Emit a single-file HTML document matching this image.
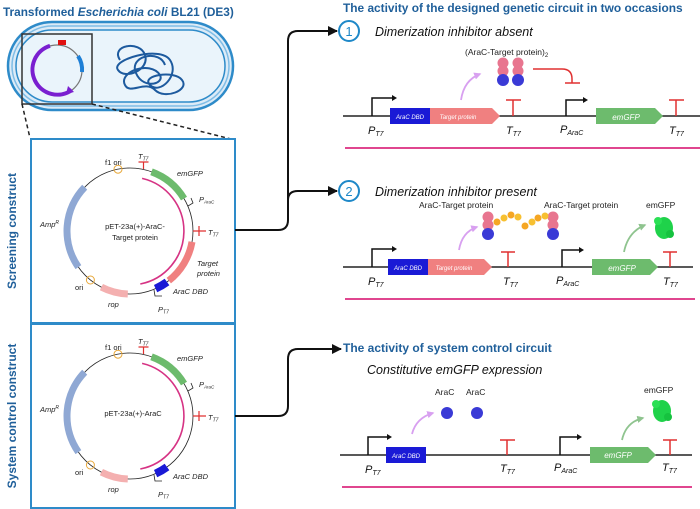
<!DOCTYPE html>
<html><head><meta charset="utf-8"><style>
html,body{margin:0;padding:0;background:#fff}
svg{display:block}
text{font-family:"Liberation Sans",sans-serif}
.bt{font-weight:bold;fill:#1f5f9a}
.it{font-style:italic}
</style></head><body>
<svg width="700" height="509" viewBox="0 0 700 509" xmlns="http://www.w3.org/2000/svg">
<defs>
<g id="plas">
 <circle cx="130" cy="231" r="63" fill="none" stroke="#222" stroke-width="0.8"/>
 <path d="M84.7 187.2 A63 63 0 0 0 78.4 267.1" fill="none" stroke="#8fa8d4" stroke-width="7"/>
 <path d="M127.8 294 A63 63 0 0 1 101.4 287.1" fill="none" stroke="#f4b0b0" stroke-width="7"/>
 <path d="M151.5 171.8 A63 63 0 0 1 184 198.6" fill="none" stroke="#6dbb6d" stroke-width="7"/>
 <path d="M167 282 A63 63 0 0 1 155.6 288.6" fill="none" stroke="#1a1ad6" stroke-width="8"/>
 <path d="M142.1 178.4 A54 54 0 0 1 140.3 284" fill="none" stroke="#d63384" stroke-width="1.6"/>
 <circle cx="118" cy="169.2" r="4" fill="none" stroke="#e8a83a" stroke-width="1"/>
 <circle cx="90.4" cy="280" r="4" fill="none" stroke="#e8a83a" stroke-width="1"/>
 <path d="M143.5 169 V162 M138.5 162 H148.5" stroke="#e03030" stroke-width="1.2" fill="none"/>
 <path d="M193 231 H206 M199 226 V236" stroke="#e03030" stroke-width="1.2" fill="none"/>
 <path d="M188 206 L193 203 L191 198" stroke="#222" stroke-width="0.8" fill="none"/>
 <path d="M154 290 L155 296 L162 296" stroke="#222" stroke-width="0.8" fill="none"/>
</g>
<marker id="ah" viewBox="0 0 10 10" refX="9" refY="5" markerWidth="5" markerHeight="5" orient="auto"><path d="M0 0 L10 5 L0 10z" fill="#111"/></marker>
<marker id="ap" viewBox="0 0 10 10" refX="8" refY="5" markerWidth="4" markerHeight="4" orient="auto"><path d="M0 0 L10 5 L0 10z" fill="#d8a0f0"/></marker>
<marker id="ag" viewBox="0 0 10 10" refX="8" refY="5" markerWidth="4" markerHeight="4" orient="auto"><path d="M0 0 L10 5 L0 10z" fill="#8fc48f"/></marker>
<g id="dimer1"><circle cx="0" cy="0" r="5.5" fill="#e8758f"/><circle cx="0" cy="8" r="5.5" fill="#e8758f"/><circle cx="0" cy="17" r="6" fill="#3a3ad6"/></g>
<g id="gfp"><ellipse cx="0" cy="0" rx="9" ry="11" fill="#1fd24a"/><circle cx="-6" cy="-7" r="4" fill="#2be055"/><circle cx="6" cy="6" r="4" fill="#16c23f"/></g>
</defs>

<text x="3" y="16" class="bt" font-size="11.8">Transformed <tspan font-style="italic">Escherichia coli</tspan> BL21 (DE3)</text>
<rect x="8" y="22" width="225" height="88" rx="44" fill="#dcebf7" stroke="#2e8bc9" stroke-width="2.5"/>
<rect x="12" y="26" width="217" height="80" rx="40" fill="none" stroke="#7fbde6" stroke-width="1.5"/>
<rect x="16" y="30" width="209" height="72" rx="36" fill="#eaf4fb" stroke="#2e8bc9" stroke-width="1.5"/>
<rect x="22" y="34" width="70" height="70" fill="none" stroke="#333" stroke-width="1.5"/>
<circle cx="57" cy="70" r="25" fill="none" stroke="#777" stroke-width="1.2"/>
<path d="M50 45.8 A25 25 0 1 0 72 90" fill="none" stroke="#7a1fd0" stroke-width="4"/>
<path d="M68 86 L74 92 L66 94z" fill="#7a1fd0"/>
<rect x="58" y="40" width="8" height="5" fill="#e01010"/>
<path d="M78 56 A25 25 0 0 1 82 72" fill="none" stroke="#1e7fd6" stroke-width="4"/>
<path d="M120 60 C110 45 140 40 145 55 C150 70 125 80 118 70 C110 60 160 45 170 60 C180 75 160 95 150 85 C140 75 175 70 182 80 C190 90 165 100 155 90 C145 80 130 95 125 85 C118 72 150 60 160 75 C165 85 140 90 135 70 C132 55 160 50 165 65" fill="none" stroke="#1d5a9e" stroke-width="2"/>
<path d="M22 104 L30 138 M92 104 L235 140" stroke="#222" stroke-width="1.5" stroke-dasharray="4,3"/>

<rect x="31" y="139" width="204" height="184" fill="none" stroke="#2e8bc9" stroke-width="2"/>
<rect x="31" y="324" width="204" height="184" fill="none" stroke="#2e8bc9" stroke-width="2"/>
<text transform="translate(16,231) rotate(-90)" text-anchor="middle" class="bt" font-size="12">Screening construct</text>
<text transform="translate(16,416) rotate(-90)" text-anchor="middle" class="bt" font-size="12">System control  construct</text>

<use href="#plas"/>
<path d="M192 241.9 A63 63 0 0 1 168.8 280.6" fill="none" stroke="#f08080" stroke-width="7"/>
<g font-size="7.5" fill="#222">
<text x="105" y="165">f1 ori</text>
<text x="138" y="159" class="it">T<tspan font-size="5" dy="1.5">T7</tspan></text>
<text x="177" y="176" class="it">emGFP</text>
<text x="199" y="202" class="it">P<tspan font-size="4.5" dy="1.5">AraC</tspan></text>
<text x="208" y="235" class="it">T<tspan font-size="5" dy="1.5">T7</tspan></text>
<text x="135" y="229" text-anchor="middle">pET-23a(+)-AraC-</text>
<text x="135" y="240" text-anchor="middle">Target protein</text>
<text x="40" y="227" class="it">Amp<tspan font-size="5" dy="-3">R</tspan></text>
<text x="197" y="266" class="it">Target</text>
<text x="197" y="276" class="it">protein</text>
<text x="173" y="294" class="it">AraC DBD</text>
<text x="75" y="290">ori</text>
<text x="108" y="307" class="it">rop</text>
<text x="158" y="312" class="it">P<tspan font-size="5" dy="1.5">T7</tspan></text>
</g>
<use href="#plas" transform="translate(0,185)"/>
<g font-size="7.5" fill="#222">
<text x="105" y="350">f1 ori</text>
<text x="138" y="344" class="it">T<tspan font-size="5" dy="1.5">T7</tspan></text>
<text x="177" y="361" class="it">emGFP</text>
<text x="199" y="387" class="it">P<tspan font-size="4.5" dy="1.5">AraC</tspan></text>
<text x="208" y="420" class="it">T<tspan font-size="5" dy="1.5">T7</tspan></text>
<text x="133" y="416" text-anchor="middle">pET-23a(+)-AraC</text>
<text x="40" y="412" class="it">Amp<tspan font-size="5" dy="-3">R</tspan></text>
<text x="173" y="479" class="it">AraC DBD</text>
<text x="75" y="475">ori</text>
<text x="108" y="492" class="it">rop</text>
<text x="158" y="497" class="it">P<tspan font-size="5" dy="1.5">T7</tspan></text>
</g>

<path d="M235 230 H278 Q288 230 288 220 V41 Q288 31 298 31 H337" fill="none" stroke="#111" stroke-width="2" marker-end="url(#ah)"/>
<path d="M288 200 Q288 191 298 191 H337" fill="none" stroke="#111" stroke-width="2" marker-end="url(#ah)"/>
<path d="M235 416 H278 Q288 416 288 406 V359 Q288 349 298 349 H341" fill="none" stroke="#111" stroke-width="2" marker-end="url(#ah)"/>

<text x="343" y="12" class="bt" font-size="11.9">The activity of the designed genetic circuit in two occasions</text>
<circle cx="349" cy="31" r="10" fill="#fff" stroke="#1e88c8" stroke-width="2"/>
<text x="349" y="36" text-anchor="middle" font-size="13" fill="#1e88c8">1</text>
<text x="375" y="36" class="it" font-size="12.5" fill="#111">Dimerization inhibitor absent</text>
<circle cx="349" cy="191" r="10" fill="#fff" stroke="#1e88c8" stroke-width="2"/>
<text x="349" y="196" text-anchor="middle" font-size="13" fill="#1e88c8">2</text>
<text x="375" y="196" class="it" font-size="12.5" fill="#111">Dimerization inhibitor present</text>

<g>
<line x1="343" y1="116" x2="700" y2="116" stroke="#222" stroke-width="1.5"/>
<path d="M372 116 V98 H393" fill="none" stroke="#111" stroke-width="1.5"/><path d="M392 95 L397 98 L392 101z" fill="#111"/>
<rect x="390" y="108" width="40" height="16" fill="#1a1ad6"/>
<text x="410" y="119" text-anchor="middle" font-size="6" fill="#fff" class="it">AraC DBD</text>
<path d="M430 108 H492 L500 116 L492 124 H430z" fill="#f08080"/>
<text x="458" y="119" text-anchor="middle" font-size="6" fill="#fff" class="it">Target protein</text>
<path d="M513 116 V100 M506 100 H521" stroke="#e03030" stroke-width="1.5"/>
<path d="M566 116 V100 H584" fill="none" stroke="#111" stroke-width="1.5"/><path d="M583 97 L588 100 L583 103z" fill="#111"/>
<path d="M596 108 H655 L663 116 L655 124 H596z" fill="#6dbb6d"/>
<text x="626" y="120" text-anchor="middle" font-size="8" fill="#fff" class="it">emGFP</text>
<path d="M676 116 V100 M669 100 H684" stroke="#e03030" stroke-width="1.5"/>
<g font-size="11" class="it" fill="#111">
<text x="368" y="134">P<tspan font-size="7" dy="2">T7</tspan></text>
<text x="506" y="134">T<tspan font-size="7" dy="2">T7</tspan></text>
<text x="560" y="133">P<tspan font-size="7" dy="2">AraC</tspan></text>
<text x="669" y="134">T<tspan font-size="7" dy="2">T7</tspan></text>
</g>
<line x1="345" y1="148" x2="700" y2="148" stroke="#e0468f" stroke-width="2"/>
<text x="465" y="55" font-size="8.5" fill="#222">(AraC-Target protein)<tspan font-size="6" dy="2">2</tspan></text>
<use href="#dimer1" x="503" y="63"/><use href="#dimer1" x="518" y="63"/>
<path d="M461 100 Q464 80 480 74" fill="none" stroke="#d8a0f0" stroke-width="1.8" marker-end="url(#ap)"/>
<path d="M533 69 H562 Q572 69 572 79 V83 M565 83 H580" fill="none" stroke="#e03030" stroke-width="1.5"/>
</g>

<g>
<line x1="343" y1="267" x2="693" y2="267" stroke="#222" stroke-width="1.5"/>
<path d="M372 267 V249 H393" fill="none" stroke="#111" stroke-width="1.5"/><path d="M392 246 L397 249 L392 252z" fill="#111"/>
<rect x="388" y="259" width="40" height="16" fill="#1a1ad6"/>
<text x="408" y="270" text-anchor="middle" font-size="6" fill="#fff" class="it">AraC DBD</text>
<path d="M428 259 H484 L492 267 L484 275 H428z" fill="#f08080"/>
<text x="454" y="270" text-anchor="middle" font-size="6" fill="#fff" class="it">Target protein</text>
<path d="M508 267 V252 M501 252 H515" stroke="#e03030" stroke-width="1.5"/>
<path d="M562 267 V250 H580" fill="none" stroke="#111" stroke-width="1.5"/><path d="M579 247 L584 250 L579 253z" fill="#111"/>
<path d="M592 259 H650 L658 267 L650 275 H592z" fill="#6dbb6d"/>
<text x="622" y="271" text-anchor="middle" font-size="8" fill="#fff" class="it">emGFP</text>
<path d="M670 267 V252 M663 252 H677" stroke="#e03030" stroke-width="1.5"/>
<g font-size="11" class="it" fill="#111">
<text x="368" y="285">P<tspan font-size="7" dy="2">T7</tspan></text>
<text x="503" y="285">T<tspan font-size="7" dy="2">T7</tspan></text>
<text x="556" y="284">P<tspan font-size="7" dy="2">AraC</tspan></text>
<text x="663" y="285">T<tspan font-size="7" dy="2">T7</tspan></text>
</g>
<line x1="345" y1="299" x2="695" y2="299" stroke="#e0468f" stroke-width="2"/>
<g font-size="8.5" fill="#222"><text x="419" y="208">AraC-Target protein</text><text x="544" y="208">AraC-Target protein</text><text x="646" y="208">emGFP</text></g>
<use href="#dimer1" x="488" y="217"/><use href="#dimer1" x="553" y="217"/>
<g fill="#f5a623"><circle cx="497" cy="222" r="3.5"/><circle cx="504" cy="218" r="3.5" fill="#f7c031"/><circle cx="511" cy="215" r="3.5"/><circle cx="518" cy="217" r="3.5" fill="#f7c031"/><circle cx="525" cy="226" r="3.5"/><circle cx="532" cy="222" r="3.5" fill="#f7c031"/><circle cx="538" cy="218" r="3.5"/><circle cx="545" cy="216" r="3.5" fill="#f7c031"/></g>
<path d="M459 250 Q462 232 477 227" fill="none" stroke="#d8a0f0" stroke-width="1.8" marker-end="url(#ap)"/>
<use href="#gfp" x="664" y="228"/>
<path d="M624 252 Q628 232 645 225" fill="none" stroke="#8fc48f" stroke-width="1.8" marker-end="url(#ag)"/>
</g>

<text x="343" y="352" class="bt" font-size="12">The activity of system control circuit</text>
<text x="367" y="374" class="it" font-size="12.5" fill="#111">Constitutive emGFP expression</text>
<g>
<line x1="340" y1="455" x2="692" y2="455" stroke="#222" stroke-width="1.5"/>
<path d="M368 455 V437 H388" fill="none" stroke="#111" stroke-width="1.5"/><path d="M387 434 L392 437 L387 440z" fill="#111"/>
<rect x="386" y="447" width="40" height="16" fill="#1a1ad6"/>
<text x="406" y="458" text-anchor="middle" font-size="6" fill="#fff" class="it">AraC DBD</text>
<path d="M507 455 V440 M500 440 H515" stroke="#e03030" stroke-width="1.5"/>
<path d="M560 455 V437 H578" fill="none" stroke="#111" stroke-width="1.5"/><path d="M577 434 L582 437 L577 440z" fill="#111"/>
<path d="M590 447 H648 L656 455 L648 463 H590z" fill="#6dbb6d"/>
<text x="618" y="458" text-anchor="middle" font-size="8" fill="#fff" class="it">emGFP</text>
<path d="M670 455 V440 M663 440 H677" stroke="#e03030" stroke-width="1.5"/>
<g font-size="11" class="it" fill="#111">
<text x="365" y="473">P<tspan font-size="7" dy="2">T7</tspan></text>
<text x="500" y="472">T<tspan font-size="7" dy="2">T7</tspan></text>
<text x="554" y="471">P<tspan font-size="7" dy="2">AraC</tspan></text>
<text x="662" y="471">T<tspan font-size="7" dy="2">T7</tspan></text>
</g>
<line x1="342" y1="487" x2="692" y2="487" stroke="#e0468f" stroke-width="2"/>
<g font-size="8.5" fill="#222"><text x="435" y="395">AraC</text><text x="466" y="395">AraC</text><text x="644" y="393">emGFP</text></g>
<circle cx="447" cy="413" r="6" fill="#3a3ad6"/><circle cx="477" cy="413" r="6" fill="#3a3ad6"/>
<path d="M412 434 Q416 418 433 413" fill="none" stroke="#d8a0f0" stroke-width="1.8" marker-end="url(#ap)"/>
<use href="#gfp" x="662" y="411"/>
<path d="M622 440 Q626 422 643 418" fill="none" stroke="#8fc48f" stroke-width="1.8" marker-end="url(#ag)"/>
</g>
</svg>
</body></html>
